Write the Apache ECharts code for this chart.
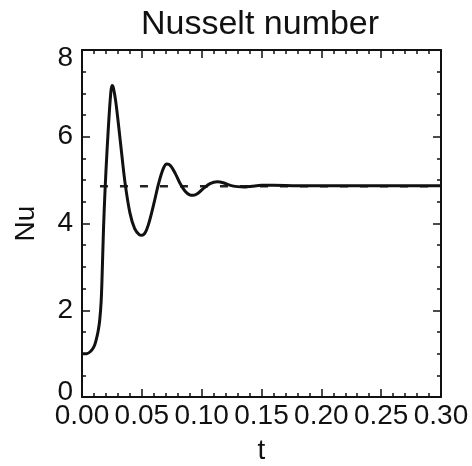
<!DOCTYPE html>
<html>
<head>
<meta charset="utf-8">
<script src="https://cdn.jsdelivr.net/npm/echarts@6/dist/echarts.min.js"></script>
<style>
  html, body { margin: 0; padding: 0; background: #fff; }
  #chart { width: 472px; height: 466px; }
</style>
</head>
<body>
<div id="chart"></div>
<script>
// values
var tVals = [0, 0.004, 0.0075, 0.010, 0.0117, 0.0135, 0.0148, 0.016, 0.0167, 0.018,
    0.019, 0.020, 0.022, 0.024, 0.025, 0.026, 0.028, 0.030, 0.033, 0.036,
    0.040, 0.044, 0.048, 0.050, 0.053, 0.056, 0.060, 0.064, 0.068, 0.071,
    0.074, 0.078, 0.082, 0.086, 0.090, 0.093, 0.097, 0.102, 0.107, 0.113,
    0.118, 0.124, 0.130, 0.135, 0.142, 0.150, 0.160, 0.180, 0.200, 0.250,
    0.300];
var nuVals = [1.0, 1.0, 1.06, 1.16, 1.3, 1.52, 1.77, 2.2, 2.7, 3.9,
    4.6, 5.2, 6.2, 7.0, 7.18, 7.15, 6.85, 6.4, 5.65, 4.93,
    4.25, 3.88, 3.74, 3.73, 3.8, 4.02, 4.45, 4.92, 5.27, 5.37,
    5.33, 5.15, 4.92, 4.75, 4.66, 4.65, 4.7, 4.82, 4.92, 4.96,
    4.94, 4.88, 4.85, 4.84, 4.86, 4.88, 4.88, 4.87, 4.87, 4.87,
    4.87];
var steadyT = [0.015, 0.30];
var steadyNu = [4.86, 4.86];

var myChart = echarts.init(document.getElementById('chart'));

var curve = [];
for (var i = 0; i < tVals.length; i++) {
    curve.push([tVals[i], nuVals[i]]);
}
var steady = [];
for (var j = 0; j < steadyT.length; j++) {
    steady.push([steadyT[j], steadyNu[j]]);
}

var font = 'Liberation Sans';
var axisLine = { show: true, onZero: false, lineStyle: { color: '#111', width: 2 } };
var axisTick = { show: true, inside: true, length: 8, lineStyle: { color: '#111', width: 1.5 } };

function xAxisCfg(pos, showLabel) {
    return {
        type: 'value',
        position: pos,
        min: 0,
        max: 0.3,
        interval: 0.05,
        axisLine: axisLine,
        axisTick: axisTick,
        splitLine: { show: false },
        minorTick: { show: true, splitNumber: 5, length: 4, lineStyle: { color: '#111', width: 1.5 } },
        axisLabel: {
            show: showLabel,
            margin: 5,
            fontFamily: font,
            fontSize: 28,
            color: '#111',
            formatter: function (v) { return v.toFixed(2); }
        },
        name: showLabel ? 't' : '',
        nameLocation: 'middle',
        nameGap: 40,
        nameTextStyle: { fontFamily: font, fontSize: 28, color: '#111' }
    };
}

function yAxisCfg(pos, showLabel) {
    return {
        type: 'value',
        position: pos,
        min: 0,
        max: 8,
        interval: 2,
        axisLine: axisLine,
        axisTick: axisTick,
        splitLine: { show: false },
        minorTick: { show: true, splitNumber: 4, length: 4, lineStyle: { color: '#111', width: 1.5 } },
        axisLabel: {
            show: showLabel,
            margin: 9,
            fontFamily: font,
            fontSize: 28,
            color: '#111',
            formatter: function (v) {
                if (v === 8) return '{top|8}';
                if (v === 0) return '{bot|0}';
                return String(v);
            },
            rich: {
                top: { fontFamily: font, fontSize: 28, color: '#111', padding: [16, 0, 0, 0] },
                bot: { fontFamily: font, fontSize: 28, color: '#111', padding: [0, 0, 10, 0] }
            }
        },
        name: showLabel ? 'Nu' : '',
        nameLocation: 'middle',
        nameGap: 42,
        nameTextStyle: { fontFamily: font, fontSize: 28, color: '#111' }
    };
}

var option = {
    backgroundColor: '#fff',
    animation: false,
    title: {
        text: 'Nusselt number',
        left: 136,
        top: 3,
        textStyle: { fontFamily: font, fontSize: 34, fontWeight: 'normal', color: '#111' }
    },
    grid: { left: 82, right: 31, top: 50, bottom: 69, outerBoundsMode: 'none' },
    xAxis: [xAxisCfg('bottom', true), xAxisCfg('top', false)],
    yAxis: [yAxisCfg('left', true), yAxisCfg('right', false)],
    series: [
        {
            type: 'line',
            data: steady,
            symbol: 'none',
            lineStyle: { color: '#222', width: 2.5, type: [8, 12] },
            z: 1
        },
        {
            type: 'line',
            data: curve,
            smooth: 0.3,
            symbol: 'none',
            lineStyle: { color: '#111', width: 3 },
            z: 2
        }
    ]
};

myChart.setOption(option);

window.addEventListener("resize", function () {
    myChart.resize();
});
</script>
</body>
</html>
